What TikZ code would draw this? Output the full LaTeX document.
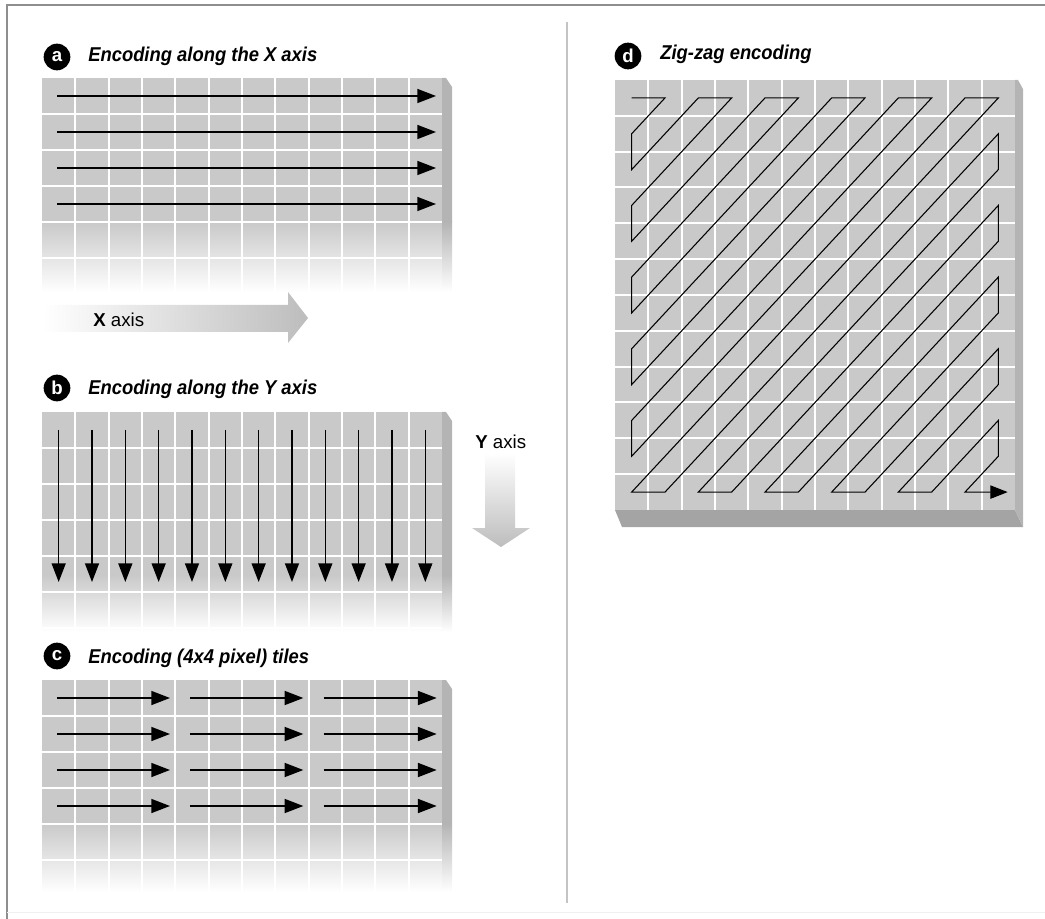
\documentclass[tikz,border=0pt]{standalone}
\usepackage{fontspec}
\setmainfont{Liberation Sans}
\newfontfamily\capfont[FakeStretch=0.92]{Liberation Sans}
\usetikzlibrary{arrows.meta,positioning}
\definecolor{cellgray}{HTML}{C9C9C9}
\definecolor{sidegray}{HTML}{B4B4B4}
\definecolor{basegray}{HTML}{A4A4A4}
\definecolor{axisgray}{HTML}{BDBDBD}
\definecolor{framegray}{HTML}{8E8E8E}
\definecolor{rulegray}{HTML}{C4C4C4}
\tikzset{
  badge/.style={circle,fill=black,text=white,minimum size=20pt,inner sep=0pt,
                font=\fontsize{14}{14}\selectfont\bfseries},
  caption/.style={anchor=base west,inner sep=0pt,
                  font=\capfont\fontsize{15}{17}\selectfont\bfseries\itshape},
  axislabel/.style={anchor=base west,inner sep=0pt,font=\fontsize{14}{16}\selectfont},
  gridln/.style={draw=white,line width=1.5pt},
  scan/.style={-{Triangle[length=14pt,width=10.5pt]},line width=1.1pt,draw=black},
  zig/.style={line width=0.8pt,draw=black,line join=miter},
}

\begin{document}
\begin{tikzpicture}[x=0.75pt,y=-0.75pt]
  \useasboundingbox (0,0) rectangle (1045,919);
  \draw[framegray,line width=1.5pt] (7,919) -- (7,5) -- (1045,5);
  \draw[gray!12,line width=0.75pt] (7,912) -- (1045,912);
  \draw[rulegray,line width=2.2pt] (567,22) -- (567,903);

  % (a) rows along x
  \node[badge] (tagA) at (57,57) {a};
  \node[caption] (capA) at (88,62) {Encoding along the X axis};
  \fill[cellgray] (42,78) rectangle (442,222);
  \shade[top color=cellgray,bottom color=white] (42,222) rectangle (442,292);
  \fill[sidegray] (442,78) -- (446,78) -- (452,87) -- (452,222) -- (442,222) -- cycle;
  \shade[top color=sidegray,bottom color=white] (442,222) rectangle (452,292);
  \foreach \i in {1,...,11}{\draw[gridln] (42+\i*33.33,78) -- ++(0,214);}
  \foreach \j in {1,...,5}{\draw[gridln] (42,78+\j*36) -- ++(400,0);}
  \foreach \j in {0,...,3}{\draw[scan] (57,96+\j*36) -- ++(379,0);}

  \shade[left color=white,right color=axisgray] (43,305) -- (288,305) -- (288,292)
     -- (308,318) -- (288,343) -- (288,332) -- (43,332) -- cycle;
  \node[axislabel] (xlab) at (93,327) {\textbf{X} axis};

  % (b) columns along y
  \node[badge] (tagB) at (57,388) {b};
  \node[caption] (capB) at (88,395) {Encoding along the Y axis};
  \fill[cellgray] (42,412) rectangle (442,575);
  \shade[top color=cellgray,bottom color=white] (42,575) rectangle (442,632);
  \fill[sidegray] (442,412) -- (446,412) -- (452,421) -- (452,575) -- (442,575) -- cycle;
  \shade[top color=sidegray,bottom color=white] (442,575) rectangle (452,632);
  \foreach \i in {1,...,11}{\draw[gridln] (42+\i*33.33,412) -- ++(0,220);}
  \foreach \j in {1,...,6}{\draw[gridln] (42,412+\j*36) -- ++(400,0);}
  \foreach \i in {0,...,11}{\draw[scan] (58.67+\i*33.33,430) -- ++(0,152);}

  \node[axislabel] (ylab) at (475,448) {\textbf{Y} axis};
  \shade[top color=white,bottom color=axisgray] (485,453) -- (515,453) -- (515,528)
     -- (530,528) -- (501,547) -- (472,528) -- (485,528) -- cycle;

  % (c) 4x4 tiles
  \node[badge] (tagC) at (57,656) {c};
  \node[caption] (capC) at (88,663) {Encoding (4x4 pixel) tiles};
  \fill[cellgray] (42,680) rectangle (442,823);
  \shade[top color=cellgray,bottom color=white] (42,823) rectangle (442,892);
  \fill[sidegray] (442,680) -- (446,680) -- (452,689) -- (452,823) -- (442,823) -- cycle;
  \shade[top color=sidegray,bottom color=white] (442,823) rectangle (452,892);
  \foreach \i in {1,...,11}{\draw[gridln] (42+\i*33.33,680) -- ++(0,212);}
  \foreach \j in {1,...,5}{\draw[gridln] (42,680+\j*36) -- ++(400,0);}
  \foreach \k in {0,1,2}{
    \foreach \j in {0,...,3}{\draw[scan] (57+\k*133.33,698+\j*36) -- ++(113,0);}
  }

  % (d) zig-zag
  \node[badge] (tagD) at (628,56) {d};
  \node[caption] (capD) at (660,60) {Zig-zag encoding};
  \fill[basegray] (615,510) -- (1015,510) -- (1023,527) -- (622,527) -- cycle;
  \fill[sidegray] (1015,80) -- (1018,80) -- (1023,89) -- (1023,527) -- (1015,510) -- cycle;
  \fill[cellgray] (615,80) rectangle (1015,510);
  \foreach \i in {1,...,11}{\draw[gridln] (615+\i*33.33,80) -- ++(0,430);}
  \foreach \j in {1,...,11}{\draw[gridln] (615,80+\j*35.83) -- ++(400,0);}
  \begin{scope}[shift={(631.67,97.92)},x=25pt,y=-26.875pt]
    \draw[zig,-{Triangle[length=13pt,width=10pt]}]
      (0,0) -- (1,0) -- (0,1) -- (0,2) -- (2,0) -- (3,0) -- (0,3) -- (0,4)
      -- (4,0) -- (5,0) -- (0,5) -- (0,6) -- (6,0) -- (7,0) -- (0,7) -- (0,8)
      -- (8,0) -- (9,0) -- (0,9) -- (0,10) -- (10,0) -- (11,0) -- (0,11) -- (1,11)
      -- (11,1) -- (11,2) -- (2,11) -- (3,11) -- (11,3) -- (11,4) -- (4,11) -- (5,11)
      -- (11,5) -- (11,6) -- (6,11) -- (7,11) -- (11,7) -- (11,8) -- (8,11) -- (9,11)
      -- (11,9) -- (11,10) -- (10,11) -- (11.28,11);
  \end{scope}
\end{tikzpicture}
\end{document}
